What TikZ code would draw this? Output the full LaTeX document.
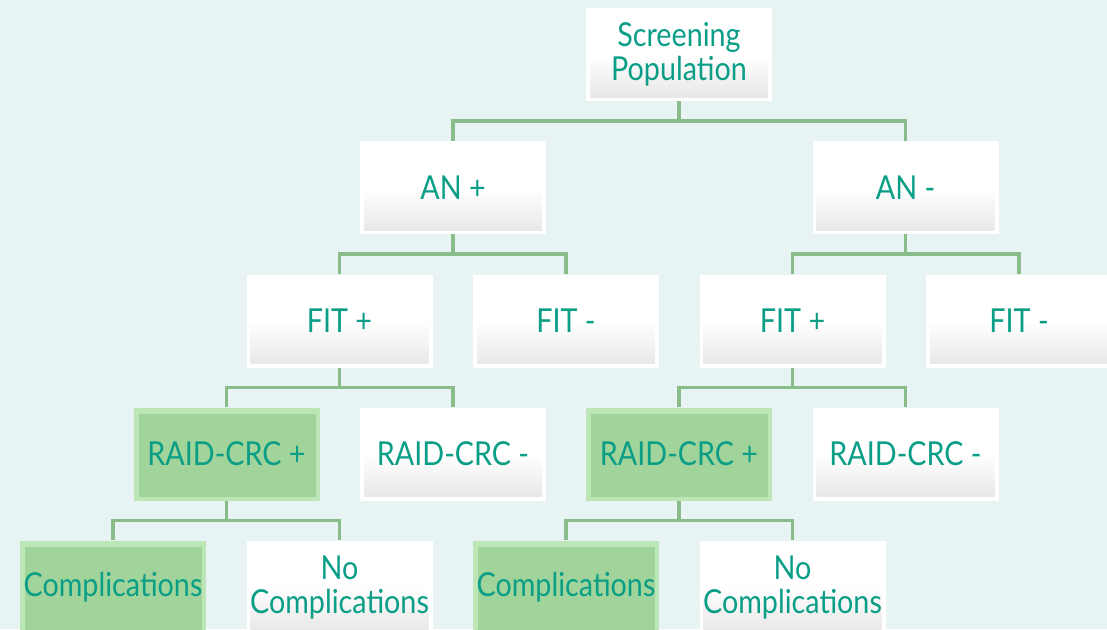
\documentclass[tikz,border=0pt]{standalone}
\usepackage{fontspec}
\setmainfont[FakeStretch=0.87]{Lato}
\usetikzlibrary{positioning}
\definecolor{bgc}{HTML}{E8F4F3}
\definecolor{txt}{HTML}{0A9E86}
\definecolor{conc}{HTML}{88BC88}
\definecolor{gmain}{HTML}{A0D49A}
\definecolor{gedge}{HTML}{BCE6B6}
\definecolor{wgray}{HTML}{E6E6E6}
\tikzset{
  box/.style={minimum width=186pt, minimum height=93pt, inner sep=0pt, align=center,
    text=txt, font=\fontsize{33}{34}\selectfont},
  wbox/.style={box, fill=white, path picture={
      \shade[top color=white, bottom color=wgray, middle color=white]
        ([shift={(4pt,-4pt)}]path picture bounding box.north west) rectangle
        ([shift={(-4pt,4pt)}]path picture bounding box.south east);}},
  gbox/.style={box, fill=gedge, path picture={
      \fill[gmain]
        ([shift={(5pt,-6pt)}]path picture bounding box.north west) rectangle
        ([shift={(-4pt,4pt)}]path picture bounding box.south east);}},
  conn/.style={draw=conc, line width=3.5pt},
}
\begin{document}
\begin{tikzpicture}[x=1pt,y=-1pt]
\fill[bgc] (0,0) rectangle (1107,629);
\useasboundingbox (0,0) rectangle (1107,629);
\node[wbox] (sp) at (679,54.5) {Screening\\Population};
\node[wbox] (anp) at (453,187.5) {AN +};
\node[wbox] (anm) at (905.5,187.5) {AN -};
\node[wbox] (fp1) at (339.5,321) {FIT +};
\node[wbox] (fm1) at (566,321) {FIT -};
\node[wbox] (fp2) at (792.5,321) {FIT +};
\node[wbox] (fm2) at (1019,321) {FIT -};
\node[gbox] (rp1) at (226.5,454) {RAID-CRC +};
\node[wbox] (rm1) at (453,454) {RAID-CRC -};
\node[gbox] (rp2) at (679,454) {RAID-CRC +};
\node[wbox] (rm2) at (905.5,454) {RAID-CRC -};
\node[gbox] (c1) at (113,587) {Complications};
\node[wbox] (n1) at (339.5,587) {No\\Complications};
\node[gbox] (c2) at (566,587) {Complications};
\node[wbox] (n2) at (792.5,587) {No\\Complications};
\foreach \p/\c in {sp/anp, sp/anm, anp/fp1, anp/fm1, anm/fp2, anm/fm2,
  fp1/rp1, fp1/rm1, fp2/rp2, fp2/rm2, rp1/c1, rp1/n1, rp2/c2, rp2/n2}
  \draw[conn] (\p.south) -- ++(0,20) -| (\c.north);
\end{tikzpicture}
\end{document}
